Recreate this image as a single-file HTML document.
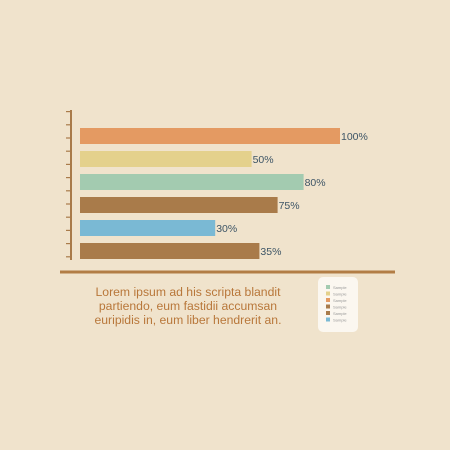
<!DOCTYPE html>
<html><head><meta charset="utf-8"><style>
body{margin:0;background:#f0e3cc;}
svg{display:block}
</style></head><body>
<svg width="450" height="450" viewBox="0 0 450 450">
<rect x="0" y="0" width="450" height="450" fill="#f0e3cc"/>
<g id="axis"></g>
<g id="bars"></g>
<rect x="60" y="270.5" width="335" height="3" fill="#b27d45"/>
<g font-family="Liberation Sans, sans-serif" font-size="12.2" fill="#b8773a" text-anchor="middle">
<text x="188" y="296">Lorem ipsum ad his scripta blandit</text>
<text x="188" y="310">partiendo, eum fastidii accumsan</text>
<text x="188" y="324">euripidis in, eum liber hendrerit an.</text>
</g>
<rect x="318" y="277" width="40" height="55" rx="5" fill="#fbf7f0"/>
<g id="legend"></g>
</svg>
<script>
const categories = ["A","B","C","D","E","F"];
const values = [100, 66, 86, 76, 52, 69];
const valueLabels = ["100%","50%","80%","75%","30%","35%"];
const colors = ["#e49a62","#e4d18c","#a3cbb0","#a97b4a","#7ab9d4","#a97b4a"];
const legendColors = ["#a3cbb0","#e4d18c","#e49a62","#a97b4a","#a97b4a","#7ab9d4"];
const NS="http://www.w3.org/2000/svg";
const x0=80, xMaxW=260, maxV=100;
function xs(v){return v/maxV*xMaxW;}
function yb(i){return 128+i*23;}
const bars=document.getElementById('bars');
categories.forEach((c,i)=>{
  const r=document.createElementNS(NS,'rect');
  r.setAttribute('x',x0);r.setAttribute('y',yb(i));
  r.setAttribute('width',xs(values[i]));r.setAttribute('height',16);
  r.setAttribute('fill',colors[i]);
  
  
  bars.appendChild(r);
  const t=document.createElementNS(NS,'text');
  t.setAttribute('x',x0+xs(values[i])+1);t.setAttribute('y',yb(i)+12);
  t.setAttribute('font-family','Liberation Sans, sans-serif');
  t.setAttribute('font-size','10.5');t.setAttribute('fill','#3d5566');
  t.textContent=valueLabels[i];
  
  
  bars.appendChild(t);
});
const ax=document.getElementById('axis');
const ln=document.createElementNS(NS,'rect');
ln.setAttribute('x',70);ln.setAttribute('y',110);ln.setAttribute('width',2);ln.setAttribute('height',150);ln.setAttribute('fill','#a97b4a');


ax.appendChild(ln);
for(let k=0;k<12;k++){
  const tk=document.createElementNS(NS,'rect');
  tk.setAttribute('x',66);tk.setAttribute('y',111+k*13.2);tk.setAttribute('width',5);tk.setAttribute('height',1.2);tk.setAttribute('fill','#a97b4a');
  
  
  ax.appendChild(tk);
}
const lg=document.getElementById('legend');
legendColors.forEach((c,i)=>{
  const s=document.createElementNS(NS,'rect');
  s.setAttribute('x',326);s.setAttribute('y',285+i*6.5);s.setAttribute('width',4);s.setAttribute('height',4);s.setAttribute('fill',c);
  
  
  lg.appendChild(s);
  const t=document.createElementNS(NS,'text');
  t.setAttribute('x',333);t.setAttribute('y',289+i*6.5);t.setAttribute('font-size','4');
  t.setAttribute('font-family','Liberation Sans, sans-serif');t.setAttribute('fill','#999');
  t.textContent='Sample';
  
  
  lg.appendChild(t);
});
</script>
</body></html>
